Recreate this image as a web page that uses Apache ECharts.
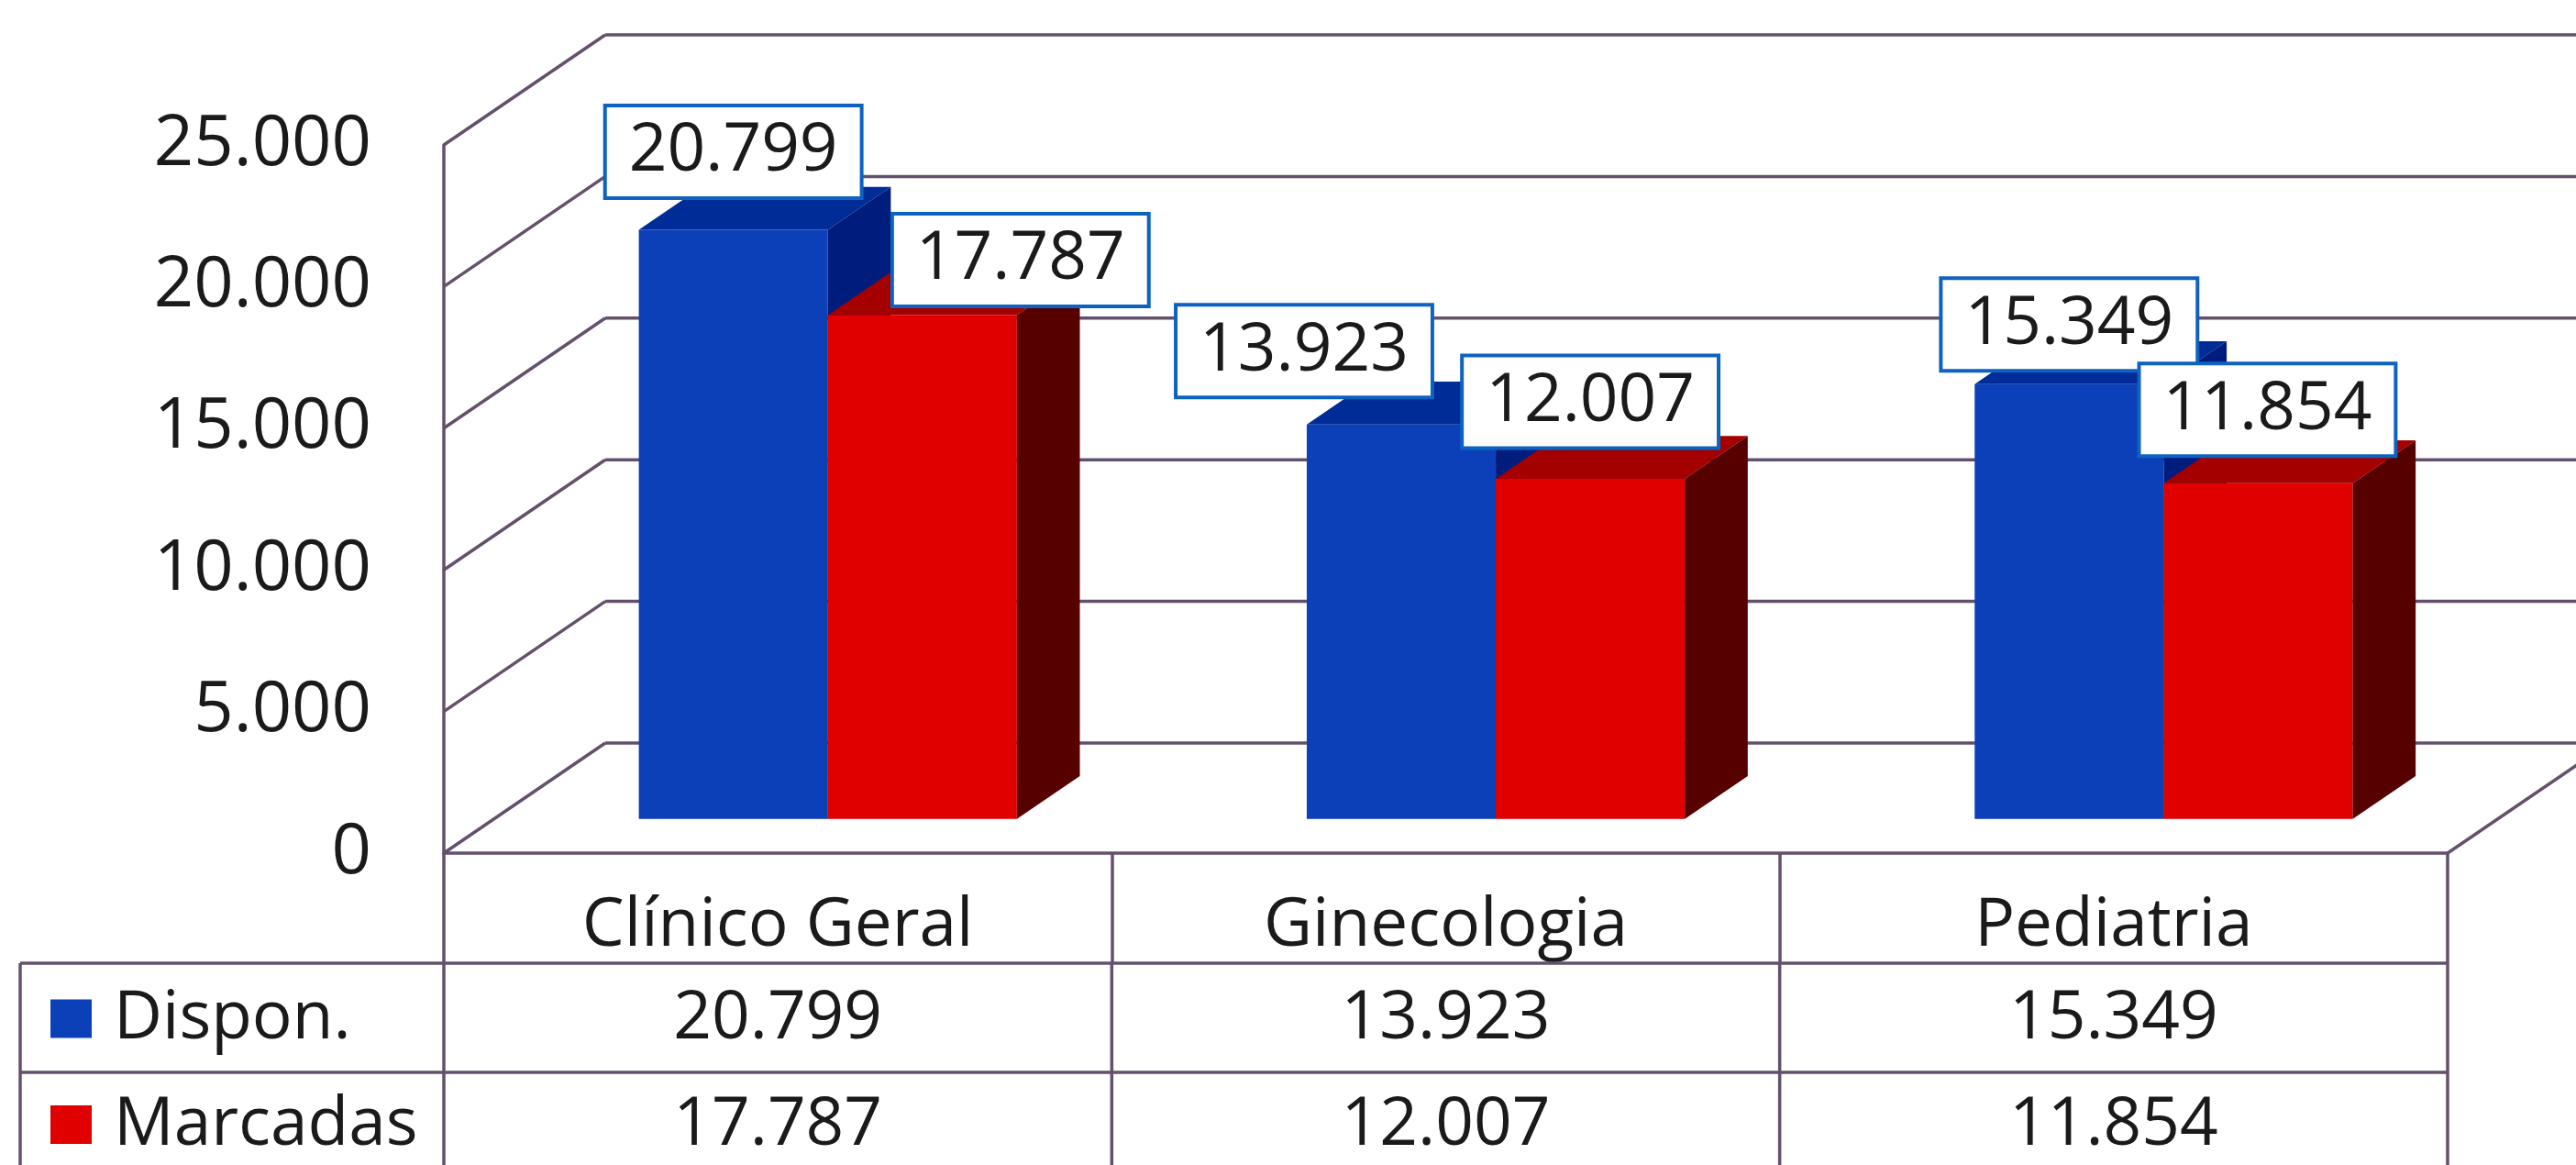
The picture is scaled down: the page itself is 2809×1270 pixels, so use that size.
<!DOCTYPE html>
<html>
<head>
    <meta charset="UTF-8"/>
    <title>Consultas</title>
    <script src="https://cdn.jsdelivr.net/npm/echarts@6/dist/echarts.min.js"></script>
    <style>
        body { margin: 0; background: #fff; }
        #main { width: 2809px; height: 1270px; }
    </style>
</head>
<body>
<div id="main"></div>
<script>
    var categories = ['Clínico Geral', 'Ginecologia', 'Pediatria'];
    var dispon = [20799, 13923, 15349];
    var marcadas = [17787, 12007, 11854];
    var yTicks = [0, 5000, 10000, 15000, 20000, 25000];
    var seriesNames = ['Dispon.', 'Marcadas'];

    // visual do grafico 3D (projecao obliqua)
    var DEPTH = [176, -120];
    var T0 = 0.31, T1 = 0.70;
    var BAR = 0.283;
    var LINE = '#64506c';
    var TXT = '#1a1a1a';
    var FONT = 'Open Sans';
    var FS = 73;
    var faces = [
        {front: '#0c40b8', top: '#002c98', side: '#001c7c'},
        {front: '#e00000', top: '#a40000', side: '#560000'}
    ];
    // ajuste dos rotulos [dx, dy] (como no original)
    var labelShift = [
        [[0, -5], [-106, 0], [0, 15]],
        [[107, 20], [0, -4], [10, 0]]
    ];

    function fmt(n) {
        return String(n).replace(/\B(?=(\d{3})+(?!\d))/g, '.');
    }

    var lineStyle = {stroke: LINE, lineWidth: 3.5};

    function wallItem(params, api) {
        var v = api.value(1);
        var p = api.coord([0, v]);
        var band = api.size([1, 0])[0];
        var x0 = p[0] - band / 2;
        var x1 = x0 + band * categories.length;
        var bx = x0 + DEPTH[0], by = p[1] + DEPTH[1];
        var children = [
            {type: 'line', shape: {x1: x0, y1: p[1], x2: bx, y2: by}, style: lineStyle},
            {type: 'line', shape: {x1: bx, y1: by, x2: x1 + DEPTH[0], y2: by}, style: lineStyle}
        ];
        if (v === 0) {
            children.push({type: 'line', shape: {x1: x1, y1: p[1], x2: x1 + DEPTH[0], y2: by}, style: lineStyle});
        }
        return {type: 'group', children: children};
    }

    function barItem(si) {
        return function (params, api) {
            var ci = api.value(0), v = api.value(1);
            var base = api.coord([ci, 0]), top = api.coord([ci, v]);
            var w = api.size([1, 0])[0] * BAR;
            var xl = base[0] + (si === 0 ? -w : 0) + T0 * DEPTH[0];
            var xr = xl + w;
            var yb = base[1] + T0 * DEPTH[1], yt = top[1] + T0 * DEPTH[1];
            var ddx = (T1 - T0) * DEPTH[0], ddy = (T1 - T0) * DEPTH[1];
            var f = faces[si];
            return {
                type: 'group', children: [
                    {type: 'rect', shape: {x: xl, y: yt, width: w, height: yb - yt}, style: {fill: f.front}},
                    {type: 'polygon', shape: {points: [[xl, yt], [xr, yt], [xr + ddx, yt + ddy], [xl + ddx, yt + ddy]]}, style: {fill: f.top}},
                    {type: 'polygon', shape: {points: [[xr, yt], [xr + ddx, yt + ddy], [xr + ddx, yb + ddy], [xr, yb]]}, style: {fill: f.side}}
                ]
            };
        };
    }

    function labelItem(si) {
        return function (params, api) {
            var ci = api.value(0), v = api.value(1);
            var base = api.coord([ci, 0]), top = api.coord([ci, v]);
            var w = api.size([1, 0])[0] * BAR;
            var sh = labelShift[si][ci];
            var cx = base[0] + (si === 0 ? -w / 2 : w / 2) + T0 * DEPTH[0] + sh[0];
            var cy = top[1] + T0 * DEPTH[1] - 80 + sh[1];
            return {
                type: 'text', x: cx, y: cy,
                style: {
                    text: fmt(v), fontSize: FS, fontFamily: FONT, fill: TXT,
                    align: 'center', verticalAlign: 'middle',
                    backgroundColor: '#fff', borderColor: '#0e62c0', borderWidth: 4,
                    padding: [14, 24, 10, 24]
                }
            };
        };
    }

    function tableItem(params, api) {
        var ci = api.value(0);
        var p = api.coord([ci, 0]);
        var band = api.size([1, 0])[0];
        var xl = p[0] - band / 2, xr = p[0] + band / 2;
        var r1 = p[1] + 120, r2 = r1 + 119, end = api.getHeight();
        var c1 = (r1 + r2) / 2 + 2, c2 = r2 + 58;
        var txt = function (x, y, s, align) {
            return {type: 'text', x: x, y: y, style: {text: s, fontSize: FS, fontFamily: FONT, fill: TXT, align: align || 'center', verticalAlign: 'middle'}};
        };
        var children = [
            {type: 'line', shape: {x1: xl, y1: r1, x2: xr, y2: r1}, style: lineStyle},
            {type: 'line', shape: {x1: xl, y1: r2, x2: xr, y2: r2}, style: lineStyle},
            {type: 'line', shape: {x1: xr, y1: r1, x2: xr, y2: end}, style: lineStyle},
            txt(p[0], c1, fmt(dispon[ci])),
            txt(p[0], c2, fmt(marcadas[ci]))
        ];
        if (ci === 0) {
            // coluna da legenda
            children.push(
                {type: 'line', shape: {x1: 22, y1: r1, x2: xl, y2: r1}, style: lineStyle},
                {type: 'line', shape: {x1: 22, y1: r2, x2: xl, y2: r2}, style: lineStyle},
                {type: 'line', shape: {x1: 22, y1: r1, x2: 22, y2: end}, style: lineStyle},
                {type: 'line', shape: {x1: xl, y1: r1, x2: xl, y2: end}, style: lineStyle},
                {type: 'rect', shape: {x: 55, y: c1 - 22, width: 45, height: 42}, style: {fill: faces[0].front}},
                {type: 'rect', shape: {x: 55, y: c2 - 22, width: 45, height: 42}, style: {fill: faces[1].front}},
                txt(124, c1, seriesNames[0], 'left'),
                txt(124, c2, seriesNames[1], 'left')
            );
        }
        return {type: 'group', children: children};
    }

    var myChart = echarts.init(document.getElementById('main'));
    var option = {
        backgroundColor: '#fff',
        animation: false,
        textStyle: {fontFamily: FONT},
        grid: {left: 484, right: 140, top: 158, bottom: 340},
        xAxis: {
            type: 'category',
            data: categories,
            axisLine: {show: true, lineStyle: {color: LINE, width: 3.5}},
            axisTick: {show: true, length: 120, interval: 0, lineStyle: {color: LINE, width: 3.5}},
            axisLabel: {interval: 0, margin: 80, fontSize: FS, fontFamily: FONT, color: TXT, verticalAlign: 'middle'},
            splitLine: {show: false}
        },
        yAxis: {
            type: 'value',
            min: 0, max: 25000, interval: 5000,
            axisLine: {show: true, lineStyle: {color: LINE, width: 3.5}},
            axisTick: {show: false},
            splitLine: {show: false},
            axisLabel: {margin: 79, fontSize: 76, fontFamily: FONT, color: TXT, formatter: fmt}
        },
        series: [
            {type: 'custom', name: 'paredes', z: 1, renderItem: wallItem, data: yTicks.map(function (v) { return [0, v]; })},
            {type: 'custom', name: seriesNames[0], z: 2, renderItem: barItem(0),
                data: dispon.map(function (v, i) { return [i, v]; })},
            {type: 'custom', name: seriesNames[1], z: 2, renderItem: barItem(1),
                data: marcadas.map(function (v, i) { return [i, v]; })},
            {type: 'custom', name: 'rotulos0', z: 5, renderItem: labelItem(0), data: dispon.map(function (v, i) { return [i, v]; })},
            {type: 'custom', name: 'rotulos1', z: 5, renderItem: labelItem(1), data: marcadas.map(function (v, i) { return [i, v]; })},
            {type: 'custom', name: 'tabela', z: 3, renderItem: tableItem, data: categories.map(function (c, i) { return [i, 0]; })}
        ]
    };
    myChart.setOption(option);
</script>
</body>
</html>
